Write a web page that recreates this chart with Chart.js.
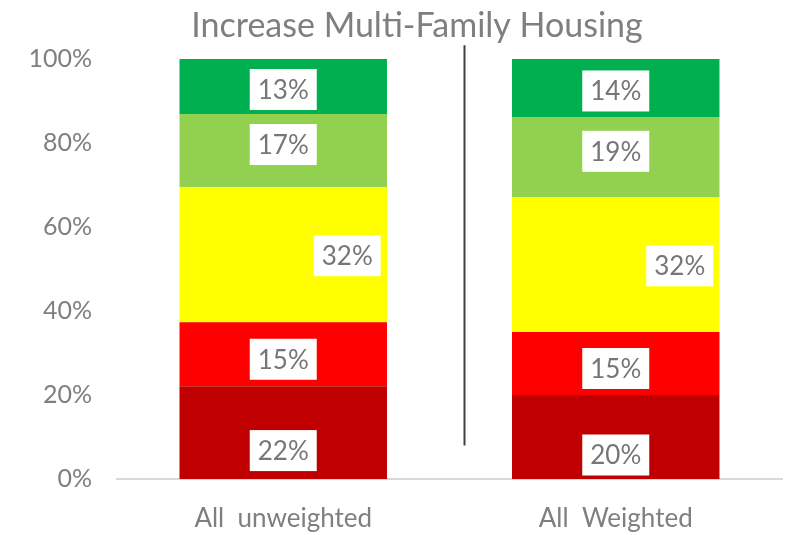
<!DOCTYPE html>
<html>
<head>
<meta charset="utf-8">
<script src="https://cdn.jsdelivr.net/npm/chart.js@4.4.0/dist/chart.umd.min.js"></script>
<style>
  html, body { margin: 0; padding: 0; background: #fff; }
  #wrap { width: 795px; height: 535px; }
</style>
</head>
<body>
<div id="wrap"><canvas id="myChart" width="795" height="535"></canvas></div>
<script>
// Datos del gráfico
const chartTitle = 'Increase Multi-Family Housing';
const categories = ['All  unweighted', 'All  Weighted'];
const seriesNames = ['Strongly oppose', 'Oppose', 'Neutral', 'Support', 'Strongly support'];
const strongOppose = [22.1, 20.0];
const oppose = [15.2, 15.0];
const neutral = [32.2, 32.0];
const support = [17.4, 19.2];
const strongSupport = [13.1, 13.8];
const yTicks = [0, 20, 40, 60, 80, 100];

const colors = ['#C00000', '#FF0000', '#FFFF00', '#92D050', '#00B050'];
const FONT = 'Lato, "DejaVu Sans", sans-serif';
const GREY = '#7F7F7F';
const WEIGHT = '400';

// Desplazamiento de las etiquetas por serie (px)
const labelShift = [
    { dx: 0, dy: 18 },
    { dx: 0, dy: 5 },
    { dx: 64, dy: 1 },
    { dx: 0, dy: -6 },
    { dx: 0, dy: 3 }
];

// Título dibujado a mano (descentrado como en el original)
const titlePlugin = {
    id: 'titlePlugin',
    afterDraw(chart) {
        const ctx = chart.ctx;
        ctx.save();
        ctx.font = WEIGHT + ' 34px ' + FONT;
        ctx.fillStyle = GREY;
        ctx.textAlign = 'center';
        ctx.textBaseline = 'alphabetic';
        ctx.fillText(chartTitle, 417, 37);
        ctx.restore();
    }
};

// Etiquetas en cajas blancas
const boxLabels = {
    id: 'boxLabels',
    afterDatasetsDraw(chart) {
        const ctx = chart.ctx;
        ctx.save();
        ctx.font = WEIGHT + ' 26px ' + FONT;
        ctx.textAlign = 'center';
        ctx.textBaseline = 'middle';
        chart.data.datasets.forEach((ds, i) => {
            const meta = chart.getDatasetMeta(i);
            meta.data.forEach((bar, j) => {
                const text = Math.round(ds.data[j]) + '%';
                const x = bar.x + labelShift[i].dx;
                const y = (bar.y + bar.base) / 2 + labelShift[i].dy;
                const w = 67, h = 41;
                ctx.fillStyle = '#fff';
                ctx.fillRect(x - w / 2, y - h / 2, w, h);
                ctx.fillStyle = '#767676';
                ctx.fillText(text, x, y + 1);
            });
        });
        ctx.restore();
    }
};

// Línea vertical entre las dos barras
const divider = {
    id: 'divider',
    afterDatasetsDraw(chart) {
        const meta = chart.getDatasetMeta(0);
        const x = (meta.data[0].x + meta.data[1].x) / 2 + 15;
        const y = chart.scales.y;
        const ctx = chart.ctx;
        ctx.save();
        ctx.strokeStyle = '#404040';
        ctx.lineWidth = 2;
        ctx.beginPath();
        ctx.moveTo(x, y.getPixelForValue(103.3));
        ctx.lineTo(x, y.getPixelForValue(8));
        ctx.stroke();
        ctx.restore();
    }
};

const datasetValues = [strongOppose, oppose, neutral, support, strongSupport];

const ctx = document.getElementById('myChart').getContext('2d');
const myChart = new Chart(ctx, {
    type: 'bar',
    data: {
        labels: categories,
        datasets: datasetValues.map((vals, i) => ({
            label: seriesNames[i],
            data: vals,
            backgroundColor: colors[i],
            borderWidth: 0,
            categoryPercentage: 1,
            barPercentage: 0.624
        }))
    },
    options: {
        responsive: false,
        animation: false,
        layout: { padding: { left: 0, right: 13, top: 59, bottom: 0 } },
        plugins: {
            legend: { display: false },
            tooltip: { enabled: false },
            title: { display: false }
        },
        scales: {
            x: {
                stacked: true,
                afterFit(scale) { scale.height = 56; },
                grid: { display: false, drawTicks: false },
                border: { display: true, color: '#D9D9D9', width: 2 },
                ticks: { color: GREY, font: { family: FONT, size: 26, weight: WEIGHT }, padding: 24 }
            },
            y: {
                stacked: true,
                min: 0,
                max: 100,
                afterFit(scale) { scale.width = 117; },
                afterBuildTicks(scale) { scale.ticks = yTicks.map(v => ({ value: v })); },
                grid: { display: false, drawTicks: false },
                border: { display: false },
                ticks: {
                    color: GREY,
                    font: { family: FONT, size: 25, weight: WEIGHT },
                    padding: 25,
                    callback: v => v + '%'
                }
            }
        }
    },
    plugins: [boxLabels, divider, titlePlugin]
});
</script>
</body>
</html>
